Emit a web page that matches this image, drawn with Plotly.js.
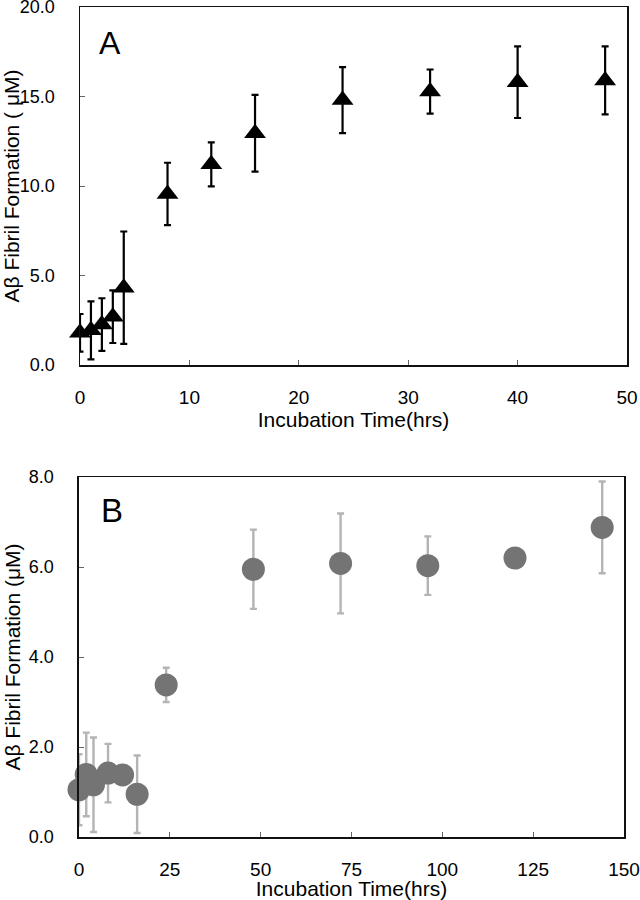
<!DOCTYPE html>
<html>
<head>
<meta charset="utf-8">
<script src="https://cdn.plot.ly/plotly-3.0.1.min.js"></script>
<style>html,body{margin:0;padding:0;background:#fff;}#chart{width:640px;height:900px;}</style>
</head>
<body>
<div id="chart"></div>
<script>
// Panel A: Aβ fibril formation vs incubation time (0-48 h)
const timeA = [0, 1, 2, 3, 4, 8, 12, 16, 24, 32, 40, 48];
const fibrilA = [1.80, 1.94, 2.26, 2.70, 4.32, 9.56, 11.21, 12.95, 14.80, 15.28, 15.80, 15.90];
const errA = [1.05, 1.62, 1.47, 1.47, 3.14, 1.74, 1.23, 2.14, 1.84, 1.23, 2.00, 1.90];

// Panel B: Aβ fibril formation vs incubation time (0-144 h)
const timeB = [0, 2, 4, 8, 12, 16, 24, 48, 72, 96, 120, 144];
const fibrilB = [1.05, 1.39, 1.16, 1.42, 1.38, 0.95, 3.38, 5.95, 6.08, 6.03, 6.20, 6.88];
const errB = [0.79, 0.93, 1.05, 0.65, 0, 0.86, 0.38, 0.88, 1.11, 0.65, 0, 1.02];

const yTitleA = 'Aβ Fibril Formation ( μM)';
const yTitleB = 'Aβ Fibril Formation (μM)';
const xTitle = 'Incubation Time(hrs)';
const panelLabels = ['A', 'B'];

const FONT = 'Liberation Sans, Arial, Helvetica, sans-serif';

const traces = [
  {
    x: timeA, y: fibrilA, type: 'scatter', mode: 'markers',
    xaxis: 'x', yaxis: 'y', cliponaxis: false,
    marker: {symbol: 'triangle-up', size: 19, color: '#000', line: {width: 0}},
    error_y: {type: 'data', array: errA, visible: true, color: '#000', thickness: 2.2, width: 3.5},
    hoverinfo: 'x+y'
  },
  {
    x: timeB, y: fibrilB, type: 'scatter', mode: 'markers',
    xaxis: 'x2', yaxis: 'y2', cliponaxis: false,
    marker: {symbol: 'circle', size: 23, color: '#747474', line: {width: 0}},
    error_y: {type: 'data', array: errB, visible: true, color: '#b4b4b4', thickness: 2.4, width: 3.5},
    hoverinfo: 'x+y'
  }
];

function axisBase(extra) {
  return Object.assign({
    showgrid: false, zeroline: false, showline: true, mirror: true,
    linecolor: '#111', linewidth: 1.5,
    ticks: 'inside', ticklen: 5, tickwidth: 1, tickcolor: '#666',
    tickfont: {family: FONT, size: 18, color: '#000'},
    ticklabeloverflow: 'allow',
    fixedrange: true
  }, extra);
}

const layout = {
  width: 640, height: 900,
  margin: {l: 0, r: 0, t: 0, b: 0},
  paper_bgcolor: '#fff', plot_bgcolor: '#fff',
  showlegend: false,
  font: {family: FONT, color: '#000'},
  xaxis: axisBase({
    domain: [0.125, 0.9797], range: [0, 50], dtick: 10, tick0: 0, anchor: 'y',
    tickfont: {family: FONT, size: 19, color: '#000'}, ticklabelstandoff: 15,
    title: {text: xTitle, font: {family: FONT, size: 21, color: '#000'}, standoff: 4}
  }),
  yaxis: axisBase({
    domain: [0.5944, 0.9922], range: [0, 20], dtick: 5, tick0: 0, tickformat: '.1f', anchor: 'x',
    ticklabelstandoff: 20,
    title: {text: yTitleA, font: {family: FONT, size: 21, color: '#000'}, standoff: 2}
  }),
  xaxis2: axisBase({
    domain: [0.1234, 0.975], range: [0, 150], dtick: 25, tick0: 0, anchor: 'y2',
    tickfont: {family: FONT, size: 19, color: '#000'}, ticklabelstandoff: 15,
    title: {text: xTitle, font: {family: FONT, size: 21, color: '#000'}, standoff: 4}
  }),
  yaxis2: axisBase({
    domain: [0.07, 0.47], range: [0, 8], dtick: 2, tick0: 0, tickformat: '.1f', anchor: 'x2',
    ticklabelstandoff: 20,
    title: {text: yTitleB, font: {family: FONT, size: 21, color: '#000'}, standoff: 2}
  }),
  annotations: [
    {text: panelLabels[0], xref: 'paper', yref: 'paper', x: 110/640, y: 1 - 43/900,
     xanchor: 'center', yanchor: 'middle', showarrow: false,
     font: {family: FONT, size: 32, color: '#000'}},
    {text: panelLabels[1], xref: 'paper', yref: 'paper', x: 112/640, y: 1 - 510/900,
     xanchor: 'center', yanchor: 'middle', showarrow: false,
     font: {family: FONT, size: 33, color: '#000'}}
  ]
};

Plotly.newPlot('chart', traces, layout, {displayModeBar: false, staticPlot: true});
</script>
</body>
</html>
